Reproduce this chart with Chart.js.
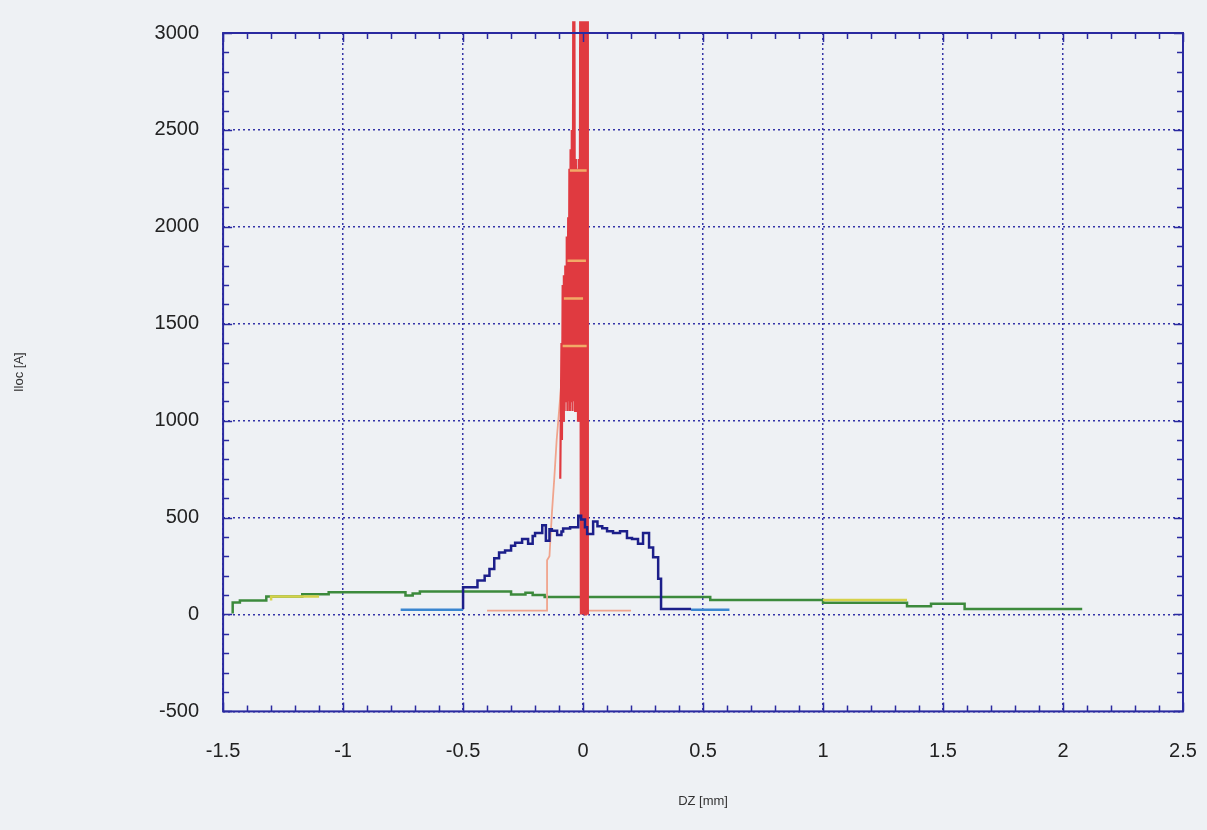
<!DOCTYPE html>
<html>
<head>
<meta charset="utf-8">
<script src="https://cdn.jsdelivr.net/npm/chart.js@4.4.0/dist/chart.umd.min.js"></script>
<style>
html,body{margin:0;padding:0;background:#eef1f4;}
canvas{display:block;}
</style>
</head>
<body>
<canvas id="c" width="1207" height="830"></canvas>
<script>
// ---- data ----
const xTicks = [-1.5, -1, -0.5, 0, 0.5, 1, 1.5, 2, 2.5];
const xTickLabels = ['-1.5', '-1', '-0.5', '0', '0.5', '1', '1.5', '2', '2.5'];
const yTicks = [-500, 0, 500, 1000, 1500, 2000, 2500, 3000];
const yTickLabels = ['-500', '0', '500', '1000', '1500', '2000', '2500', '3000'];

// broad green profile (step)
const greenX = [-1.46, -1.43, -1.32, -1.17, -1.06, -0.74, -0.71, -0.68, -0.30, -0.24, -0.21, -0.16, 0.53, 1.00, 1.35, 1.45, 1.59, 1.71, 2.08];
const greenY = [5, 62, 72, 93, 105, 115, 98, 108, 118, 103, 112, 100, 90, 75, 60, 42, 55, 28, 28];
// yellow parts of the broad profile
const yellowX = [-1.30, -1.17, -1.10, -1.09, 1.00, 1.35, 1.36, 1.40];
const yellowY = [72, 93, 93, null, 75, 75, null, 60];
// light blue flat base
const lblueX = [-0.76, -0.50, -0.49, 0.45, 0.61];
const lblueY = [25, 25, null, 25, 25];
// navy profile (step)
const navyX = [-0.50, -0.44, -0.41, -0.39, -0.37, -0.35, -0.325, -0.30, -0.283, -0.254, -0.229, -0.21, -0.20, -0.17, -0.155, -0.14, -0.13, -0.108, -0.09, -0.083, -0.054, -0.02, -0.008, 0.008, 0.017, 0.042, 0.06, 0.08, 0.10, 0.125, 0.154, 0.183, 0.204, 0.229, 0.25, 0.275, 0.292, 0.313, 0.325, 0.37, 0.45];
const navyY = [28, 140, 175, 200, 235, 290, 320, 330, 355, 370, 390, 365, 405, 420, 460, 380, 440, 432, 410, 428, 443, 450, 510, 490, 450, 415, 480, 455, 445, 430, 420, 430, 395, 390, 365, 420, 345, 295, 185, 28, 28];
// salmon thin line
const salmonX = [-0.40, -0.15, -0.15, -0.14, -0.13, -0.12, -0.11, -0.10, -0.09, -0.085, 0.0, 0.02, 0.02, 0.20];
const salmonY = [20, 20, 280, 300, 520, 700, 900, 1050, 1200, 1250, null, 0, 20, 20];
// red spike
const redX = [-0.095, -0.09, -0.088, -0.085, -0.083, -0.08, -0.077, -0.074, -0.071, -0.068, -0.065, -0.062, -0.06, -0.057, -0.055, -0.052, -0.05, -0.047, -0.044, -0.041, -0.038, -0.036, -0.033, -0.03, -0.027, -0.024, -0.021, -0.018, -0.015, -0.012, -0.009, -0.006, -0.003, 0.0, 0.003, 0.006, 0.009, 0.012, 0.015, 0.018, 0.02];
const redY = [700, 1400, 900, 1700, 1000, 1750, 1050, 1800, 1100, 1950, 1050, 2050, 1100, 2300, 1050, 2400, 1100, 2500, 1050, 3060, 1100, 3060, 1050, 2350, 1050, 2300, 1000, 2350, 1000, 3060, 0, 3060, 0, 3060, 0, 3060, 0, 3060, 0, 3060, 0];
// orange streaks in the spike
const orangeX = [-0.055, 0.015, 0.016, -0.065, 0.012, 0.013, -0.08, 0.0, 0.001, -0.085, 0.015];
const orangeY = [2290, 2290, null, 1825, 1825, null, 1630, 1630, null, 1385, 1385];

const pts = (xs, ys) => xs.map((x, i) => ({x: x, y: ys[i]}));

const bgPlugin = {
  id: 'bg',
  beforeDraw(chart) {
    const ctx = chart.ctx;
    ctx.save();
    ctx.fillStyle = '#eef1f4';
    ctx.fillRect(0, 0, chart.width, chart.height);
    ctx.restore();
  }
};

const framePlugin = {
  id: 'frame',
  afterDraw(chart) {
    const {ctx, chartArea: a, scales: {x, y}} = chart;
    ctx.save();
    ctx.strokeStyle = '#2a2aa0';
    ctx.lineWidth = 1.5;
    ctx.beginPath();
    for (let k = Math.round(x.min * 10); k <= Math.round(x.max * 10); k++) {
      const px = Math.round(x.getPixelForValue(k / 10)) + 0.5;
      const major = k % 5 === 0;
      const len = major ? 9 : 6;
      ctx.moveTo(px, a.bottom); ctx.lineTo(px, a.bottom - len);
      ctx.moveTo(px, a.top); ctx.lineTo(px, a.top + len);
    }
    for (let k = Math.round(y.min / 100); k <= Math.round(y.max / 100); k++) {
      const py = Math.round(y.getPixelForValue(k * 100)) + 0.5;
      const major = k % 5 === 0;
      const len = major ? 9 : 6;
      ctx.moveTo(a.left, py); ctx.lineTo(a.left + len, py);
      ctx.moveTo(a.right, py); ctx.lineTo(a.right - len, py);
    }
    ctx.stroke();
    ctx.lineWidth = 2;
    ctx.strokeRect(a.left, a.top, a.right - a.left, a.bottom - a.top);
    ctx.restore();
  }
};

const noOverhang = s => { s.paddingLeft = 0; s.paddingRight = 0; s.paddingTop = 0; s.paddingBottom = 0; };
const common = {pointRadius: 0, fill: false, tension: 0, spanGaps: false};

// Chart.js draws the first dataset on top
new Chart(document.getElementById('c'), {
  type: 'line',
  data: {
    datasets: [
      Object.assign({label: 'spike2', data: pts(orangeX, orangeY), borderColor: 'rgba(245,190,110,0.85)', borderWidth: 2.5}, common),
      Object.assign({label: 'broad2', data: pts(yellowX, yellowY), borderColor: '#d6d24a', borderWidth: 2.5, stepped: 'after'}, common),
      Object.assign({label: 'core', data: pts(navyX, navyY), borderColor: '#1c1f8a', borderWidth: 2.5, stepped: 'after'}, common),
      Object.assign({label: 'spike', data: pts(redX, redY), borderColor: '#e03a40', borderWidth: 2.2, clip: {left: 0, top: 14, right: 0, bottom: 2}}, common),
      Object.assign({label: 'thin', data: pts(salmonX, salmonY), borderColor: '#f0a48c', borderWidth: 1.8}, common),
      Object.assign({label: 'broad', data: pts(greenX, greenY), borderColor: '#3c8a3c', borderWidth: 2.5, stepped: 'after'}, common),
      Object.assign({label: 'base', data: pts(lblueX, lblueY), borderColor: '#3a86d0', borderWidth: 2.5}, common)
    ]
  },
  options: {
    responsive: false,
    animation: false,
    devicePixelRatio: 1,
    layout: {padding: {left: 12, right: 24, top: 33, bottom: 21}},
    plugins: {legend: {display: false}, tooltip: {enabled: false}},
    scales: {
      x: {
        type: 'linear', min: -1.5, max: 2.5,
        afterBuildTicks: s => { s.ticks = xTicks.map(v => ({value: v})); },
        afterFit: noOverhang,
        ticks: {
          callback: (v, i) => xTickLabels[i],
          color: '#222', padding: 28, maxRotation: 0, autoSkip: false,
          font: {family: 'Liberation Sans', size: 20}
        },
        grid: {color: '#3434a8', lineWidth: 1.5, drawTicks: false},
        border: {display: false, dash: [2, 3]},
        title: {display: true, text: 'DZ [mm]', color: '#333', font: {family: 'Liberation Sans', size: 13}, padding: {top: 2, bottom: 0}}
      },
      y: {
        type: 'linear', min: -500, max: 3000,
        afterBuildTicks: s => { s.ticks = yTicks.map(v => ({value: v})); },
        afterFit: noOverhang,
        ticks: {
          callback: (v, i) => yTickLabels[i],
          color: '#222', padding: 24, autoSkip: false,
          font: {family: 'Liberation Sans', size: 20}
        },
        grid: {color: '#3434a8', lineWidth: 1.5, drawTicks: false},
        border: {display: false, dash: [2, 3]},
        title: {display: true, text: 'Iloc [A]', color: '#333', font: {family: 'Liberation Sans', size: 13}, padding: {top: 0, bottom: 103}}
      }
    }
  },
  plugins: [bgPlugin, framePlugin]
});
</script>
</body>
</html>
